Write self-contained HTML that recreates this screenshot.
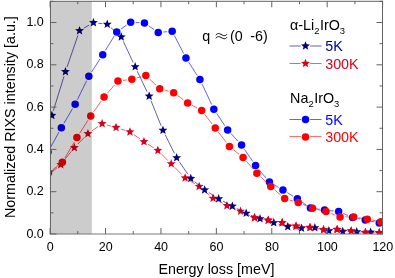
<!DOCTYPE html>
<html><head><meta charset="utf-8"><title>RIXS</title>
<style>html,body{margin:0;padding:0;background:#fff;}body{width:395px;height:278px;overflow:hidden;font-family:"Liberation Sans",sans-serif;}</style>
</head><body>
<svg width="395" height="278" viewBox="0 0 395 278" style="display:block;will-change:transform;font-family:'Liberation Sans',sans-serif">
<rect width="395" height="278" fill="#fff"/>
<defs><clipPath id="c"><rect x="50.0" y="1.0" width="332.5" height="233.0"/></clipPath></defs>
<g clip-path="url(#c)">
<path d="M50.69,173.13L57.01,167.77M63.81,160.77L71.29,151.43M77.78,144.10L84.52,137.20M91.96,130.88L98.14,126.52M106.88,124.99L111.32,126.21M120.72,128.98L125.28,130.42M133.98,134.69L139.92,138.81M148.09,144.22L153.71,147.78M161.31,153.86L167.79,160.34M174.68,167.30L181.72,174.50M189.35,180.52L194.95,183.88M202.87,189.59L209.33,195.11M217.39,200.58L222.61,203.32M231.47,207.49L236.03,209.41M245.01,213.34L250.09,215.66M259.37,218.58L263.43,219.32M273.07,221.07L277.33,221.83M286.91,223.86L291.29,224.94M300.93,226.59L305.07,227.01M314.79,228.25L318.71,228.85M328.45,229.53L332.25,229.47M342.02,229.96L346.28,230.44M356.02,231.51L360.58,231.99M370.35,232.57L374.35,232.63" stroke="#d9001c" stroke-width="0.62" fill="none"/>
<polygon points="46.95,171.60 48.17,174.63 51.42,174.85 48.92,176.94 49.71,180.10 46.95,178.37 44.19,180.10 44.98,176.94 42.48,174.85 45.73,174.63" fill="#d9001c"/>
<polygon points="60.75,159.90 61.97,162.93 65.22,163.15 62.72,165.24 63.51,168.40 60.75,166.67 57.99,168.40 58.78,165.24 56.28,163.15 59.53,162.93" fill="#d9001c"/>
<polygon points="74.35,142.90 75.57,145.93 78.82,146.15 76.32,148.24 77.11,151.40 74.35,149.67 71.59,151.40 72.38,148.24 69.88,146.15 73.13,145.93" fill="#d9001c"/>
<polygon points="87.95,129.00 89.17,132.03 92.42,132.25 89.92,134.34 90.71,137.50 87.95,135.77 85.19,137.50 85.98,134.34 83.48,132.25 86.73,132.03" fill="#d9001c"/>
<polygon points="102.15,119.00 103.37,122.03 106.62,122.25 104.12,124.34 104.91,127.50 102.15,125.77 99.39,127.50 100.18,124.34 97.68,122.25 100.93,122.03" fill="#d9001c"/>
<polygon points="116.05,122.80 117.27,125.83 120.52,126.05 118.02,128.14 118.81,131.30 116.05,129.57 113.29,131.30 114.08,128.14 111.58,126.05 114.83,125.83" fill="#d9001c"/>
<polygon points="129.95,127.20 131.17,130.23 134.42,130.45 131.92,132.54 132.71,135.70 129.95,133.97 127.19,135.70 127.98,132.54 125.48,130.45 128.73,130.23" fill="#d9001c"/>
<polygon points="143.95,136.90 145.17,139.93 148.42,140.15 145.92,142.24 146.71,145.40 143.95,143.67 141.19,145.40 141.98,142.24 139.48,140.15 142.73,139.93" fill="#d9001c"/>
<polygon points="157.85,145.70 159.07,148.73 162.32,148.95 159.82,151.04 160.61,154.20 157.85,152.47 155.09,154.20 155.88,151.04 153.38,148.95 156.63,148.73" fill="#d9001c"/>
<polygon points="171.25,159.10 172.47,162.13 175.72,162.35 173.22,164.44 174.01,167.60 171.25,165.87 168.49,167.60 169.28,164.44 166.78,162.35 170.03,162.13" fill="#d9001c"/>
<polygon points="185.15,173.30 186.37,176.33 189.62,176.55 187.12,178.64 187.91,181.80 185.15,180.07 182.39,181.80 183.18,178.64 180.68,176.55 183.93,176.33" fill="#d9001c"/>
<polygon points="199.15,181.70 200.37,184.73 203.62,184.95 201.12,187.04 201.91,190.20 199.15,188.47 196.39,190.20 197.18,187.04 194.68,184.95 197.93,184.73" fill="#d9001c"/>
<polygon points="213.05,193.60 214.27,196.63 217.52,196.85 215.02,198.94 215.81,202.10 213.05,200.37 210.29,202.10 211.08,198.94 208.58,196.85 211.83,196.63" fill="#d9001c"/>
<polygon points="226.95,200.90 228.17,203.93 231.42,204.15 228.92,206.24 229.71,209.40 226.95,207.67 224.19,209.40 224.98,206.24 222.48,204.15 225.73,203.93" fill="#d9001c"/>
<polygon points="240.55,206.60 241.77,209.63 245.02,209.85 242.52,211.94 243.31,215.10 240.55,213.37 237.79,215.10 238.58,211.94 236.08,209.85 239.33,209.63" fill="#d9001c"/>
<polygon points="254.55,213.00 255.77,216.03 259.02,216.25 256.52,218.34 257.31,221.50 254.55,219.77 251.79,221.50 252.58,218.34 250.08,216.25 253.33,216.03" fill="#d9001c"/>
<polygon points="268.25,215.50 269.47,218.53 272.72,218.75 270.22,220.84 271.01,224.00 268.25,222.27 265.49,224.00 266.28,220.84 263.78,218.75 267.03,218.53" fill="#d9001c"/>
<polygon points="282.15,218.00 283.37,221.03 286.62,221.25 284.12,223.34 284.91,226.50 282.15,224.77 279.39,226.50 280.18,223.34 277.68,221.25 280.93,221.03" fill="#d9001c"/>
<polygon points="296.05,221.40 297.27,224.43 300.52,224.65 298.02,226.74 298.81,229.90 296.05,228.17 293.29,229.90 294.08,226.74 291.58,224.65 294.83,224.43" fill="#d9001c"/>
<polygon points="309.95,222.80 311.17,225.83 314.42,226.05 311.92,228.14 312.71,231.30 309.95,229.57 307.19,231.30 307.98,228.14 305.48,226.05 308.73,225.83" fill="#d9001c"/>
<polygon points="323.55,224.90 324.77,227.93 328.02,228.15 325.52,230.24 326.31,233.40 323.55,231.67 320.79,233.40 321.58,230.24 319.08,228.15 322.33,227.93" fill="#d9001c"/>
<polygon points="337.15,224.70 338.37,227.73 341.62,227.95 339.12,230.04 339.91,233.20 337.15,231.47 334.39,233.20 335.18,230.04 332.68,227.95 335.93,227.73" fill="#d9001c"/>
<polygon points="351.15,226.30 352.37,229.33 355.62,229.55 353.12,231.64 353.91,234.80 351.15,233.07 348.39,234.80 349.18,231.64 346.68,229.55 349.93,229.33" fill="#d9001c"/>
<polygon points="365.45,227.80 366.67,230.83 369.92,231.05 367.42,233.14 368.21,236.30 365.45,234.57 362.69,236.30 363.48,233.14 360.98,231.05 364.23,230.83" fill="#d9001c"/>
<polygon points="379.25,228.00 380.47,231.03 383.72,231.25 381.22,233.34 382.01,236.50 379.25,234.77 376.49,236.50 377.28,233.34 374.78,231.25 378.03,231.03" fill="#d9001c"/>
<path d="M53.30,110.82L64.00,76.28M67.05,66.97L77.95,35.33M83.78,28.23L89.22,25.07M98.31,23.20L102.39,23.70M110.89,27.58L117.61,33.62M123.32,41.34L133.08,62.36M137.26,71.22L147.04,91.68M150.98,100.64L161.12,125.76M165.13,134.69L174.47,153.41M179.41,161.85L187.99,174.45M194.54,181.61L200.86,186.79M208.79,192.53L214.51,196.17M222.97,201.10L228.03,203.80M236.69,208.37L241.81,211.03M250.71,215.10L255.49,217.00M264.76,220.14L269.04,221.36M278.46,224.05L283.04,225.35M292.62,227.19L296.68,227.61M306.45,227.99L309.95,227.91M319.64,228.83L324.06,229.77M333.74,231.05L337.86,231.25M347.65,231.60L351.85,231.70M361.65,231.94L365.75,232.06M375.54,232.51L379.76,232.79" stroke="#000080" stroke-width="0.62" fill="none"/>
<polygon points="51.85,110.80 53.07,113.83 56.32,114.05 53.82,116.14 54.61,119.30 51.85,117.57 49.09,119.30 49.88,116.14 47.38,114.05 50.63,113.83" fill="#000080"/>
<polygon points="65.45,66.90 66.67,69.93 69.92,70.15 67.42,72.24 68.21,75.40 65.45,73.67 62.69,75.40 63.48,72.24 60.98,70.15 64.23,69.93" fill="#000080"/>
<polygon points="79.55,26.00 80.77,29.03 84.02,29.25 81.52,31.34 82.31,34.50 79.55,32.77 76.79,34.50 77.58,31.34 75.08,29.25 78.33,29.03" fill="#000080"/>
<polygon points="93.45,17.90 94.67,20.93 97.92,21.15 95.42,23.24 96.21,26.40 93.45,24.67 90.69,26.40 91.48,23.24 88.98,21.15 92.23,20.93" fill="#000080"/>
<polygon points="107.25,19.60 108.47,22.63 111.72,22.85 109.22,24.94 110.01,28.10 107.25,26.37 104.49,28.10 105.28,24.94 102.78,22.85 106.03,22.63" fill="#000080"/>
<polygon points="121.25,32.20 122.47,35.23 125.72,35.45 123.22,37.54 124.01,40.70 121.25,38.97 118.49,40.70 119.28,37.54 116.78,35.45 120.03,35.23" fill="#000080"/>
<polygon points="135.15,62.10 136.37,65.13 139.62,65.35 137.12,67.44 137.91,70.60 135.15,68.87 132.39,70.60 133.18,67.44 130.68,65.35 133.93,65.13" fill="#000080"/>
<polygon points="149.15,91.40 150.37,94.43 153.62,94.65 151.12,96.74 151.91,99.90 149.15,98.17 146.39,99.90 147.18,96.74 144.68,94.65 147.93,94.43" fill="#000080"/>
<polygon points="162.95,125.60 164.17,128.63 167.42,128.85 164.92,130.94 165.71,134.10 162.95,132.37 160.19,134.10 160.98,130.94 158.48,128.85 161.73,128.63" fill="#000080"/>
<polygon points="176.65,153.10 177.87,156.13 181.12,156.35 178.62,158.44 179.41,161.60 176.65,159.87 173.89,161.60 174.68,158.44 172.18,156.35 175.43,156.13" fill="#000080"/>
<polygon points="190.75,173.80 191.97,176.83 195.22,177.05 192.72,179.14 193.51,182.30 190.75,180.57 187.99,182.30 188.78,179.14 186.28,177.05 189.53,176.83" fill="#000080"/>
<polygon points="204.65,185.20 205.87,188.23 209.12,188.45 206.62,190.54 207.41,193.70 204.65,191.97 201.89,193.70 202.68,190.54 200.18,188.45 203.43,188.23" fill="#000080"/>
<polygon points="218.65,194.10 219.87,197.13 223.12,197.35 220.62,199.44 221.41,202.60 218.65,200.87 215.89,202.60 216.68,199.44 214.18,197.35 217.43,197.13" fill="#000080"/>
<polygon points="232.35,201.40 233.57,204.43 236.82,204.65 234.32,206.74 235.11,209.90 232.35,208.17 229.59,209.90 230.38,206.74 227.88,204.65 231.13,204.43" fill="#000080"/>
<polygon points="246.15,208.60 247.37,211.63 250.62,211.85 248.12,213.94 248.91,217.10 246.15,215.37 243.39,217.10 244.18,213.94 241.68,211.85 244.93,211.63" fill="#000080"/>
<polygon points="260.05,214.10 261.27,217.13 264.52,217.35 262.02,219.44 262.81,222.60 260.05,220.87 257.29,222.60 258.08,219.44 255.58,217.35 258.83,217.13" fill="#000080"/>
<polygon points="273.75,218.00 274.97,221.03 278.22,221.25 275.72,223.34 276.51,226.50 273.75,224.77 270.99,226.50 271.78,223.34 269.28,221.25 272.53,221.03" fill="#000080"/>
<polygon points="287.75,222.00 288.97,225.03 292.22,225.25 289.72,227.34 290.51,230.50 287.75,228.77 284.99,230.50 285.78,227.34 283.28,225.25 286.53,225.03" fill="#000080"/>
<polygon points="301.55,223.40 302.77,226.43 306.02,226.65 303.52,228.74 304.31,231.90 301.55,230.17 298.79,231.90 299.58,228.74 297.08,226.65 300.33,226.43" fill="#000080"/>
<polygon points="314.85,223.10 316.07,226.13 319.32,226.35 316.82,228.44 317.61,231.60 314.85,229.87 312.09,231.60 312.88,228.44 310.38,226.35 313.63,226.13" fill="#000080"/>
<polygon points="328.85,226.10 330.07,229.13 333.32,229.35 330.82,231.44 331.61,234.60 328.85,232.87 326.09,234.60 326.88,231.44 324.38,229.35 327.63,229.13" fill="#000080"/>
<polygon points="342.75,226.80 343.97,229.83 347.22,230.05 344.72,232.14 345.51,235.30 342.75,233.57 339.99,235.30 340.78,232.14 338.28,230.05 341.53,229.83" fill="#000080"/>
<polygon points="356.75,227.10 357.97,230.13 361.22,230.35 358.72,232.44 359.51,235.60 356.75,233.87 353.99,235.60 354.78,232.44 352.28,230.35 355.53,230.13" fill="#000080"/>
<polygon points="370.65,227.50 371.87,230.53 375.12,230.75 372.62,232.84 373.41,236.00 370.65,234.27 367.89,236.00 368.68,232.84 366.18,230.75 369.43,230.53" fill="#000080"/>
<polygon points="384.65,228.40 385.87,231.43 389.12,231.65 386.62,233.74 387.41,236.90 384.65,235.17 381.89,236.90 382.68,233.74 380.18,231.65 383.43,231.43" fill="#000080"/>
<path d="M259.37,218.58L263.43,219.32M273.07,221.07L277.33,221.83M286.91,223.86L291.29,224.94M300.93,226.59L305.07,227.01M314.79,228.25L318.71,228.85M328.45,229.53L332.25,229.47M342.02,229.96L346.28,230.44M356.02,231.51L360.58,231.99M370.35,232.57L374.35,232.63" stroke="#d9001c" stroke-width="0.62" fill="none"/>
<polygon points="254.55,213.00 255.77,216.03 259.02,216.25 256.52,218.34 257.31,221.50 254.55,219.77 251.79,221.50 252.58,218.34 250.08,216.25 253.33,216.03" fill="#d9001c"/>
<polygon points="268.25,215.50 269.47,218.53 272.72,218.75 270.22,220.84 271.01,224.00 268.25,222.27 265.49,224.00 266.28,220.84 263.78,218.75 267.03,218.53" fill="#d9001c"/>
<polygon points="282.15,218.00 283.37,221.03 286.62,221.25 284.12,223.34 284.91,226.50 282.15,224.77 279.39,226.50 280.18,223.34 277.68,221.25 280.93,221.03" fill="#d9001c"/>
<polygon points="296.05,221.40 297.27,224.43 300.52,224.65 298.02,226.74 298.81,229.90 296.05,228.17 293.29,229.90 294.08,226.74 291.58,224.65 294.83,224.43" fill="#d9001c"/>
<polygon points="309.95,222.80 311.17,225.83 314.42,226.05 311.92,228.14 312.71,231.30 309.95,229.57 307.19,231.30 307.98,228.14 305.48,226.05 308.73,225.83" fill="#d9001c"/>
<polygon points="323.55,224.90 324.77,227.93 328.02,228.15 325.52,230.24 326.31,233.40 323.55,231.67 320.79,233.40 321.58,230.24 319.08,228.15 322.33,227.93" fill="#d9001c"/>
<polygon points="337.15,224.70 338.37,227.73 341.62,227.95 339.12,230.04 339.91,233.20 337.15,231.47 334.39,233.20 335.18,230.04 332.68,227.95 335.93,227.73" fill="#d9001c"/>
<polygon points="351.15,226.30 352.37,229.33 355.62,229.55 353.12,231.64 353.91,234.80 351.15,233.07 348.39,234.80 349.18,231.64 346.68,229.55 349.93,229.33" fill="#d9001c"/>
<polygon points="365.45,227.80 366.67,230.83 369.92,231.05 367.42,233.14 368.21,236.30 365.45,234.57 362.69,236.30 363.48,233.14 360.98,231.05 364.23,230.83" fill="#d9001c"/>
<polygon points="379.25,228.00 380.47,231.03 383.72,231.25 381.22,233.34 382.01,236.50 379.25,234.77 376.49,236.50 377.28,233.34 374.78,231.25 378.03,231.03" fill="#d9001c"/>
<path d="M50.47,147.57L58.93,132.13M63.91,123.35L72.59,108.55M77.37,99.66L86.63,80.74M91.59,71.96L100.01,58.94M105.39,50.40L114.11,36.20M120.91,29.03L126.49,25.17M135.70,22.52L139.40,22.68M148.60,25.78L154.10,29.62M163.28,32.03L167.12,31.67M174.46,35.69L183.64,53.51M188.70,62.24L197.20,75.36M202.10,84.17L211.70,104.63M216.65,113.40L224.85,125.70M231.07,133.62L238.13,141.28M244.39,149.18L252.71,161.42M258.80,169.46L266.20,178.24M273.81,184.65L278.59,187.45M287.26,192.63L293.04,196.17M301.48,201.70L306.32,205.10M315.45,208.71L319.55,209.29M329.57,210.57L333.63,211.03M343.31,213.54L347.89,215.46M357.50,218.41L360.30,218.99M370.20,221.02L374.30,221.88" stroke="#0000ff" stroke-width="0.62" fill="none"/>
<circle cx="48.05" cy="152.00" r="3.75" fill="#0000ff"/>
<circle cx="61.35" cy="127.70" r="3.75" fill="#0000ff"/>
<circle cx="75.15" cy="104.20" r="3.75" fill="#0000ff"/>
<circle cx="88.85" cy="76.20" r="3.75" fill="#0000ff"/>
<circle cx="102.75" cy="54.70" r="3.75" fill="#0000ff"/>
<circle cx="116.75" cy="31.90" r="3.75" fill="#0000ff"/>
<circle cx="130.65" cy="22.30" r="3.75" fill="#0000ff"/>
<circle cx="144.45" cy="22.90" r="3.75" fill="#0000ff"/>
<circle cx="158.25" cy="32.50" r="3.75" fill="#0000ff"/>
<circle cx="172.15" cy="31.20" r="3.75" fill="#0000ff"/>
<circle cx="185.95" cy="58.00" r="3.75" fill="#0000ff"/>
<circle cx="199.95" cy="79.60" r="3.75" fill="#0000ff"/>
<circle cx="213.85" cy="109.20" r="3.75" fill="#0000ff"/>
<circle cx="227.65" cy="129.90" r="3.75" fill="#0000ff"/>
<circle cx="241.55" cy="145.00" r="3.75" fill="#0000ff"/>
<circle cx="255.55" cy="165.60" r="3.75" fill="#0000ff"/>
<circle cx="269.45" cy="182.10" r="3.75" fill="#0000ff"/>
<circle cx="282.95" cy="190.00" r="3.75" fill="#0000ff"/>
<circle cx="297.35" cy="198.80" r="3.75" fill="#0000ff"/>
<circle cx="310.45" cy="208.00" r="3.75" fill="#0000ff"/>
<circle cx="324.55" cy="210.00" r="3.75" fill="#0000ff"/>
<circle cx="338.65" cy="211.60" r="3.75" fill="#0000ff"/>
<circle cx="352.55" cy="217.40" r="3.75" fill="#0000ff"/>
<circle cx="365.25" cy="220.00" r="3.75" fill="#0000ff"/>
<circle cx="379.25" cy="222.90" r="3.75" fill="#0000ff"/>
<path d="M52.51,169.97L58.39,165.33M64.93,157.86L74.37,141.94M79.67,133.34L88.03,120.26M93.65,111.86L101.15,101.14M107.37,93.20L114.63,84.90M122.96,80.45L126.84,79.95M136.72,77.98L140.98,76.82M149.51,78.98L156.09,85.22M164.60,90.10L168.80,91.30M177.73,95.67L183.57,99.93M192.10,105.28L197.20,108.02M204.74,114.40L212.16,124.00M218.34,132.00L226.36,142.40M233.38,149.58L239.12,154.22M246.37,161.20L253.53,169.40M260.49,176.70L267.11,183.10M274.59,189.88L280.81,195.22M289.49,199.96L293.41,201.14M302.95,204.44L307.85,206.36M317.45,209.43L321.15,210.37M330.77,213.39L335.33,215.11M345.10,216.90L348.70,216.90M358.73,217.74L362.37,218.36M372.31,220.16L375.89,220.84" stroke="#ff0000" stroke-width="0.62" fill="none"/>
<circle cx="48.55" cy="173.10" r="3.75" fill="#ff0000"/>
<circle cx="62.35" cy="162.20" r="3.75" fill="#ff0000"/>
<circle cx="76.95" cy="137.60" r="3.75" fill="#ff0000"/>
<circle cx="90.75" cy="116.00" r="3.75" fill="#ff0000"/>
<circle cx="104.05" cy="97.00" r="3.75" fill="#ff0000"/>
<circle cx="117.95" cy="81.10" r="3.75" fill="#ff0000"/>
<circle cx="131.85" cy="79.30" r="3.75" fill="#ff0000"/>
<circle cx="145.85" cy="75.50" r="3.75" fill="#ff0000"/>
<circle cx="159.75" cy="88.70" r="3.75" fill="#ff0000"/>
<circle cx="173.65" cy="92.70" r="3.75" fill="#ff0000"/>
<circle cx="187.65" cy="102.90" r="3.75" fill="#ff0000"/>
<circle cx="201.65" cy="110.40" r="3.75" fill="#ff0000"/>
<circle cx="215.25" cy="128.00" r="3.75" fill="#ff0000"/>
<circle cx="229.45" cy="146.40" r="3.75" fill="#ff0000"/>
<circle cx="243.05" cy="157.40" r="3.75" fill="#ff0000"/>
<circle cx="256.85" cy="173.20" r="3.75" fill="#ff0000"/>
<circle cx="270.75" cy="186.60" r="3.75" fill="#ff0000"/>
<circle cx="284.65" cy="198.50" r="3.75" fill="#ff0000"/>
<circle cx="298.25" cy="202.60" r="3.75" fill="#ff0000"/>
<circle cx="312.55" cy="208.20" r="3.75" fill="#ff0000"/>
<circle cx="326.05" cy="211.60" r="3.75" fill="#ff0000"/>
<circle cx="340.05" cy="216.90" r="3.75" fill="#ff0000"/>
<circle cx="353.75" cy="216.90" r="3.75" fill="#ff0000"/>
<circle cx="367.35" cy="219.20" r="3.75" fill="#ff0000"/>
<circle cx="380.85" cy="221.80" r="3.75" fill="#ff0000"/>
</g>
<rect x="50.0" y="1.0" width="41.8" height="233.0" fill="#000" fill-opacity="0.2"/>
<path d="M49.95,1.3H383.0M50.45,0.8V234.5M382.5,0.8V234.5" stroke="#636363" stroke-width="1" fill="none"/>
<path d="M49.95,234.0H383.0" stroke="#6a6a6a" stroke-width="0.9" fill="none"/>
<path d="M50.10,234.0v-6M50.10,1.3v6M77.81,234.0v-3M77.81,1.3v3M105.52,234.0v-6M105.52,1.3v6M133.23,234.0v-3M133.23,1.3v3M160.94,234.0v-6M160.94,1.3v6M188.65,234.0v-3M188.65,1.3v3M216.36,234.0v-6M216.36,1.3v6M244.07,234.0v-3M244.07,1.3v3M271.78,234.0v-6M271.78,1.3v6M299.49,234.0v-3M299.49,1.3v3M327.20,234.0v-6M327.20,1.3v6M354.91,234.0v-3M354.91,1.3v3M382.62,234.0v-6M382.62,1.3v6M50.45,234.00h6M382.5,234.00h-6M50.45,212.85h3M382.5,212.85h-3M50.45,191.70h6M382.5,191.70h-6M50.45,170.55h3M382.5,170.55h-3M50.45,149.40h6M382.5,149.40h-6M50.45,128.25h3M382.5,128.25h-3M50.45,107.10h6M382.5,107.10h-6M50.45,85.95h3M382.5,85.95h-3M50.45,64.80h6M382.5,64.80h-6M50.45,43.65h3M382.5,43.65h-3M50.45,22.50h6M382.5,22.50h-6M50.45,1.35h3M382.5,1.35h-3" stroke="#636363" stroke-width="1" fill="none"/>
<text x="50.30" y="250.7" font-size="12.5" text-anchor="middle" fill="#000">0</text>
<text x="105.72" y="250.7" font-size="12.5" text-anchor="middle" fill="#000">20</text>
<text x="161.14" y="250.7" font-size="12.5" text-anchor="middle" fill="#000">40</text>
<text x="216.56" y="250.7" font-size="12.5" text-anchor="middle" fill="#000">60</text>
<text x="271.98" y="250.7" font-size="12.5" text-anchor="middle" fill="#000">80</text>
<text x="327.40" y="250.7" font-size="12.5" text-anchor="middle" fill="#000">100</text>
<text x="382.82" y="250.7" font-size="12.5" text-anchor="middle" fill="#000">120</text>
<text x="43.8" y="237.60" font-size="12.5" text-anchor="end" fill="#000">0.0</text>
<text x="43.8" y="195.30" font-size="12.5" text-anchor="end" fill="#000">0.2</text>
<text x="43.8" y="153.00" font-size="12.5" text-anchor="end" fill="#000">0.4</text>
<text x="43.8" y="110.70" font-size="12.5" text-anchor="end" fill="#000">0.6</text>
<text x="43.8" y="68.40" font-size="12.5" text-anchor="end" fill="#000">0.8</text>
<text x="43.8" y="26.10" font-size="12.5" text-anchor="end" fill="#000">1.0</text>
<text x="216.4" y="273.5" font-size="14.3" text-anchor="middle" fill="#000">Energy loss [meV]</text>
<text transform="translate(14.7,117.1) rotate(-90)" font-size="14.3" text-anchor="middle" fill="#000">Normalized RIXS intensity [a.u.]</text>
<text y="41.3" font-size="14.3" fill="#000"><tspan x="202.2">q</tspan><tspan x="229.9">(0</tspan><tspan x="250.2">-6)</tspan></text>
<path d="M215.9,35.3c0.85,-1.7 2.25,-2.1 3.85,-1.5c1.7,0.6 3.1,1.9 4.5,1.9c1.2,0 2.15,-0.6 2.8,-1.6M215.9,38.35c0.85,-1.7 2.25,-2.1 3.85,-1.5c1.7,0.6 3.1,1.9 4.5,1.9c1.2,0 2.15,-0.6 2.8,-1.6" stroke="#000" stroke-width="0.95" fill="none"/>
<text x="290" y="29.7" font-size="14.3" fill="#000">α-Li<tspan dy="3.9" font-size="9.4">2</tspan><tspan dy="-3.9" dx="0.6">IrO</tspan><tspan dy="3.9" font-size="9.4">3</tspan></text>
<text x="290.1" y="102.7" font-size="14.3" fill="#000">Na<tspan dy="3.9" font-size="9.4">2</tspan><tspan dy="-3.9" dx="0.6">IrO</tspan><tspan dy="3.9" font-size="9.4">3</tspan></text>
<path d="M289.5,46H300.7M310.3,46H321.5" stroke="#000080" stroke-width="0.62"/><polygon points="305.50,41.30 306.72,44.33 309.97,44.55 307.47,46.64 308.26,49.80 305.50,48.07 302.74,49.80 303.53,46.64 301.03,44.55 304.28,44.33" fill="#000080"/><text x="325.2" y="51" font-size="14.3" fill="#000080">5K</text>
<path d="M289.5,63.5H300.7M310.3,63.5H321.5" stroke="#d9001c" stroke-width="0.62"/><polygon points="305.50,58.80 306.72,61.83 309.97,62.05 307.47,64.14 308.26,67.30 305.50,65.57 302.74,67.30 303.53,64.14 301.03,62.05 304.28,61.83" fill="#d9001c"/><text x="325.2" y="68.5" font-size="14.3" fill="#d9001c">300K</text>
<path d="M289.5,119.5H300.9M310.1,119.5H321.5" stroke="#0000ff" stroke-width="0.62"/><circle cx="305.50" cy="119.50" r="3.75" fill="#0000ff"/><text x="325.2" y="124.5" font-size="14.3" fill="#0000ff">5K</text>
<path d="M289.5,136.6H300.9M310.1,136.6H321.5" stroke="#ff0000" stroke-width="0.62"/><circle cx="305.50" cy="137.00" r="3.75" fill="#ff0000"/><text x="325.2" y="142" font-size="14.3" fill="#ff0000">300K</text>
</svg>
</body></html>
